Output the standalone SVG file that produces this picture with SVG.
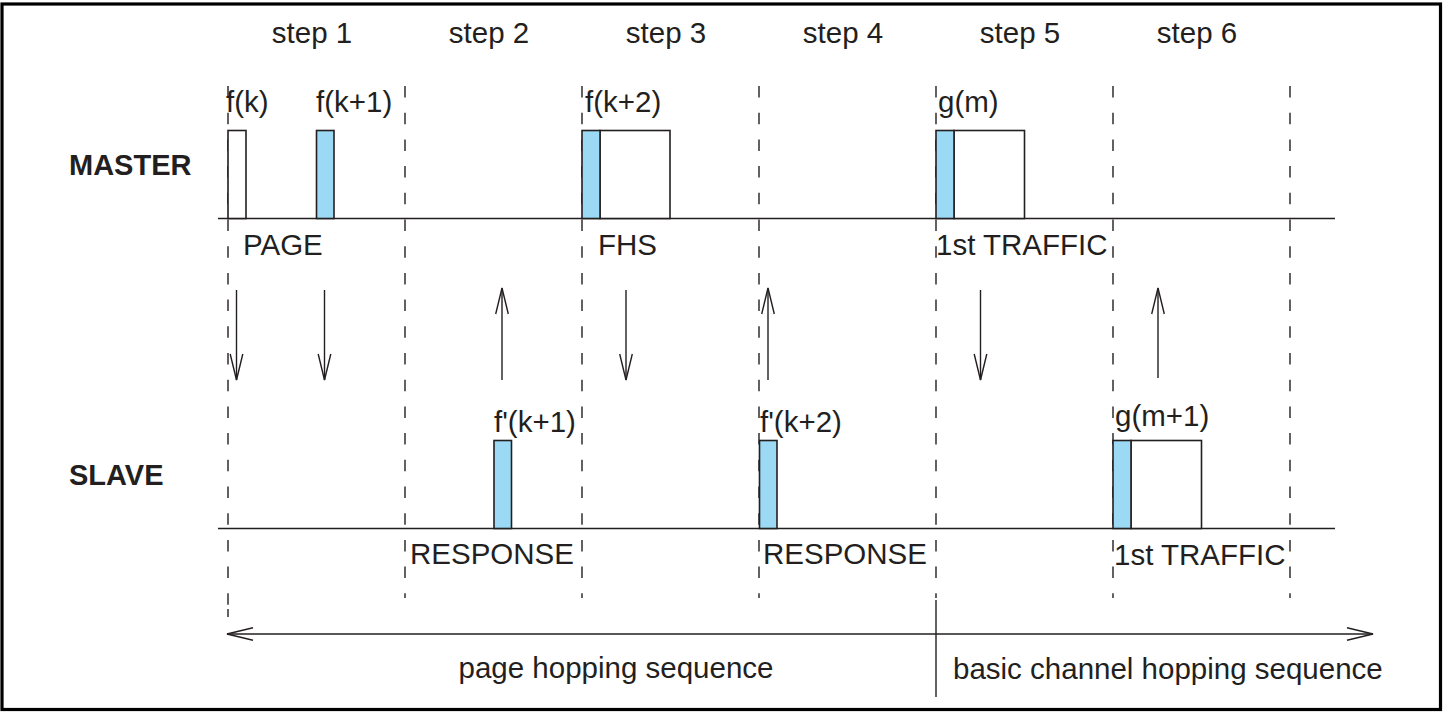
<svg xmlns="http://www.w3.org/2000/svg" width="1446" height="714" viewBox="0 0 1446 714">
<style>
text{font-family:"Liberation Sans",Arial,Helvetica,sans-serif;font-size:29.5px;fill:#231f20}
.b{font-weight:bold;font-size:29px}
.m{text-anchor:middle}
.dash{stroke:#231f20;stroke-width:1.4;stroke-dasharray:11.5 15.2;fill:none}
.ln{stroke:#231f20;stroke-width:1.4;fill:none}
.w{fill:#fff;stroke:#231f20;stroke-width:1.6}
.bl{fill:#9bd9f4;stroke:#231f20;stroke-width:1.6}
.ar{stroke:#231f20;stroke-width:1.4;fill:none;marker-end:url(#v)}
</style>
<defs>
<marker id="v" markerUnits="userSpaceOnUse" markerWidth="40" markerHeight="20" viewBox="-30 -10 40 20" refX="0" refY="0" orient="auto-start-reverse">
<path d="M-26,-6.3 L0,0 L-26,6.3" fill="none" stroke="#231f20" stroke-width="1.4"/>
</marker>
</defs>
<rect x="2" y="4" width="1438.5" height="705.5" fill="#fff" stroke="#000" stroke-width="3.2"/>

<g id="grid">
<line class="dash" x1="228" y1="86" x2="228" y2="605"/>
<line class="ln" x1="228" y1="609" x2="228" y2="617"/>
<line class="dash" x1="405" y1="86" x2="405" y2="598"/>
<line class="dash" x1="582" y1="86" x2="582" y2="598"/>
<line class="dash" x1="759" y1="86" x2="759" y2="598"/>
<line class="dash" x1="936" y1="86" x2="936" y2="598"/>
<line class="dash" x1="1113" y1="86" x2="1113" y2="598"/>
<line class="dash" x1="1290" y1="86" x2="1290" y2="598"/>
<line class="ln" x1="218" y1="218.5" x2="1335" y2="218.5"/>
<line class="ln" x1="218" y1="528.5" x2="1335" y2="528.5"/>
<line class="ln" x1="936" y1="600" x2="936" y2="697"/>
</g>

<g id="labels">
<text class="m" x="312" y="43">step 1</text>
<text class="m" x="489" y="43">step 2</text>
<text class="m" x="666" y="43">step 3</text>
<text class="m" x="843" y="43">step 4</text>
<text class="m" x="1020" y="43">step 5</text>
<text class="m" x="1197" y="43">step 6</text>
<text class="b" x="69" y="175">MASTER</text>
<text class="b" x="69" y="485">SLAVE</text>
<text x="243" y="255">PAGE</text>
<text x="598" y="255">FHS</text>
<text x="936" y="255">1st TRAFFIC</text>
<text x="410" y="564">RESPONSE</text>
<text x="763" y="564">RESPONSE</text>
<text x="1114" y="565">1st TRAFFIC</text>
<text class="m" x="616" y="678">page hopping sequence</text>
<text x="953" y="679">basic channel hopping sequence</text>
</g>

<g id="master-fk">
<rect class="w" x="228" y="130.5" width="18" height="88"/>
<text x="226" y="112">f(k)</text>
</g>
<g id="master-fk1">
<rect class="bl" x="316.5" y="130.5" width="17.5" height="88"/>
<text x="316" y="112">f(k+1)</text>
</g>
<g id="master-fk2">
<rect class="w" x="600" y="130.5" width="70" height="88"/>
<rect class="bl" x="582" y="130.5" width="18" height="88"/>
<text x="585" y="112">f(k+2)</text>
</g>
<g id="master-gm">
<rect class="w" x="954" y="130.5" width="70.5" height="88"/>
<rect class="bl" x="936" y="130.5" width="18" height="88"/>
<text x="938" y="112">g(m)</text>
</g>
<g id="slave-fk1">
<rect class="bl" x="494" y="440.5" width="17.5" height="88"/>
<text x="494" y="432">f'(k+1)</text>
</g>
<g id="slave-fk2">
<rect class="bl" x="759.5" y="440.5" width="17.5" height="88"/>
<text x="760" y="432">f'(k+2)</text>
</g>
<g id="slave-gm1">
<rect class="w" x="1131" y="440.5" width="70.5" height="88"/>
<rect class="bl" x="1113" y="440.5" width="18" height="88"/>
<text x="1115" y="426">g(m+1)</text>
</g>

<g id="connectors">
<line class="ar" x1="236.5" y1="290" x2="236.5" y2="380"/>
<line class="ar" x1="324.5" y1="290" x2="324.5" y2="380"/>
<line class="ar" x1="502" y1="380" x2="502" y2="288"/>
<line class="ar" x1="626" y1="290" x2="626" y2="380"/>
<line class="ar" x1="768" y1="380" x2="768" y2="288"/>
<line class="ar" x1="980.5" y1="290" x2="980.5" y2="380"/>
<line class="ar" x1="1158" y1="378" x2="1158" y2="288"/>
<line class="ln" x1="227" y1="634" x2="1373" y2="634" marker-start="url(#v)" marker-end="url(#v)"/>
</g>
</svg>
